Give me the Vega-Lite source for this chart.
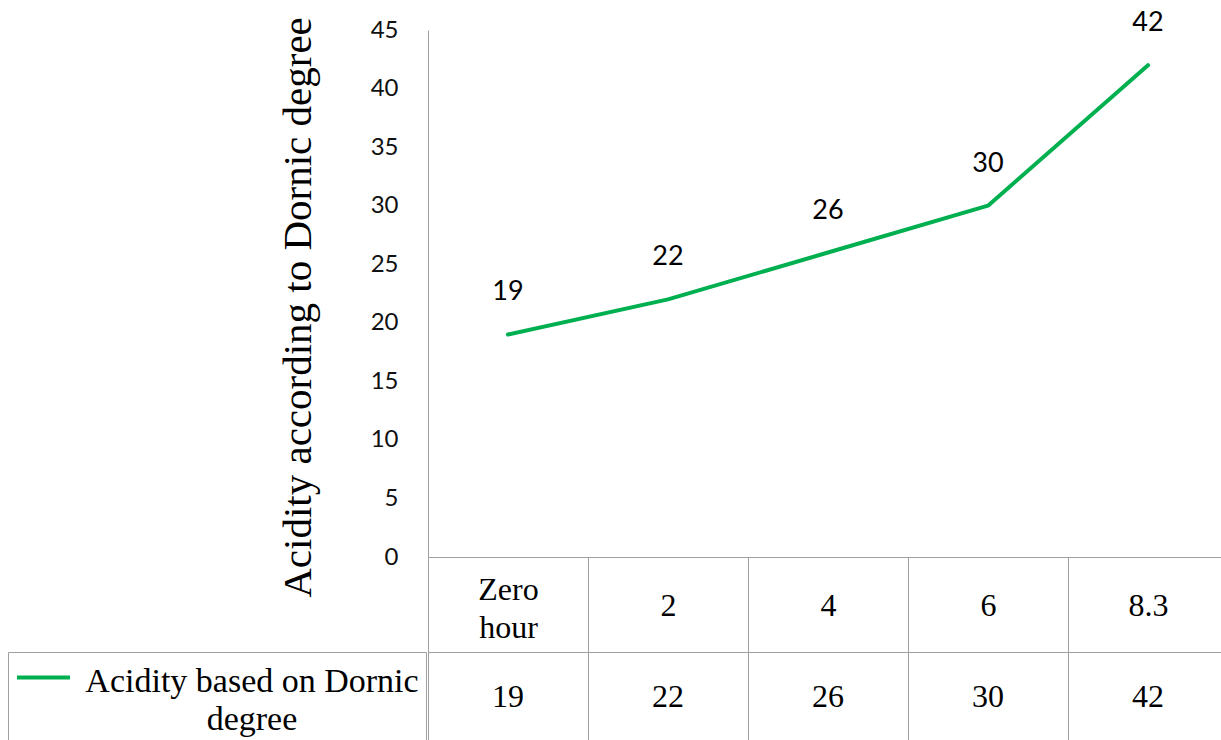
{
  "$schema": "https://vega.github.io/schema/vega-lite/v6.json",
  "autosize": "none",
  "width": 793,
  "height": 527,
  "padding": {"left": 428, "top": 30, "right": 0, "bottom": 183},
  "background": "white",
  "config": {"view": {"stroke": null}},
  "data": {"values": [
    {"hour": "Zero hour", "acidity": 19},
    {"hour": "2", "acidity": 22},
    {"hour": "4", "acidity": 26},
    {"hour": "6", "acidity": 30},
    {"hour": "8.3", "acidity": 42}
  ]},
  "resolve": {"axis": {"x": "independent"}},
  "layer": [
    {
      "mark": {"type": "line", "strokeWidth": 4, "strokeJoin": "round", "strokeCap": "round"},
      "encoding": {
        "x": {"field": "hour", "type": "nominal", "sort": null,
          "scale": {"type": "band", "range": [0, 800], "paddingInner": 0, "paddingOuter": 0},
          "axis": {"title": null, "orient": "bottom", "domain": true, "domainColor": "#a0a0a0", "domainWidth": 1,
            "ticks": true, "tickBand": "extent", "tickSize": 183, "tickColor": "#a0a0a0", "tickWidth": 1,
            "labelAngle": 0, "labelFont": "Liberation Serif", "labelFontSize": 32, "labelColor": "#000",
            "labelBaseline": "middle",
            "labelPadding": {"condition": {"test": "datum.label == 'Zero hour'", "value": -151}, "value": -135},
            "labelLineHeight": 38,
            "labelExpr": "datum.label == 'Zero hour' ? ['Zero', 'hour'] : datum.label",
            "labelFlush": false, "labelOverlap": false, "labelLimit": 0}},
        "y": {"field": "acidity", "type": "quantitative",
          "scale": {"domain": [0, 45], "nice": false},
          "axis": {"values": [0, 5, 10, 15, 20, 25, 30, 35, 40, 45], "grid": false, "ticks": false,
            "domain": true, "domainColor": "#a0a0a0", "domainWidth": 1,
            "labelFont": "Lato", "labelFontSize": 24, "labelColor": "#111", "labelPadding": 30,
            "title": "Acidity according to Dornic degree", "titleFont": "Liberation Serif", "titleFontSize": 41,
            "titleFontWeight": "normal", "titleColor": "#000", "titleAngle": 270, "titleX": -118, "titleY": 277,
            "titleBaseline": "alphabetic", "titleAlign": "center"}},
        "color": {"datum": "Acidity based on Dornic degree", "type": "nominal",
          "scale": {"range": ["#00B050"]},
          "legend": {"title": null, "orient": "none", "legendX": -420, "legendY": 622, "padding": 7,
            "strokeColor": "#a0a0a0",
            "symbolType": "M-1,-0.38L1,-0.38", "symbolSize": 2809, "symbolStrokeWidth": 4,
            "symbolStrokeColor": "#00B050", "symbolFillColor": "transparent",
            "labelFont": "Liberation Serif", "labelFontSize": 34, "labelColor": "#000", "labelLimit": 0,
            "labelAlign": "center", "labelBaseline": "middle", "labelOffset": 180,
            "labelExpr": "['Acidity based on Dornic', 'degree']",
            "encode": {"labels": {"update": {"lineHeight": {"value": 38}, "dy": {"value": -6}}}}}}
      }
    },
    {
      "mark": {"type": "text", "font": "Lato", "fontSize": 27, "color": "#000", "baseline": "middle", "dy": -42},
      "encoding": {
        "x": {"field": "hour", "type": "nominal", "sort": null, "axis": null},
        "y": {"field": "acidity", "type": "quantitative"},
        "text": {"field": "acidity", "type": "quantitative"}
      }
    },
    {
      "mark": {"type": "text", "font": "Liberation Serif", "fontSize": 32, "color": "#000", "baseline": "middle", "dy": 140},
      "encoding": {
        "x": {"field": "hour", "type": "nominal", "sort": null,
          "axis": {"orient": "bottom", "offset": 95, "title": null, "labels": false, "ticks": false,
            "domain": true, "domainColor": "#a0a0a0", "domainWidth": 1}},
        "y": {"datum": 0, "type": "quantitative"},
        "text": {"field": "acidity", "type": "quantitative"}
      }
    }
  ]
}
